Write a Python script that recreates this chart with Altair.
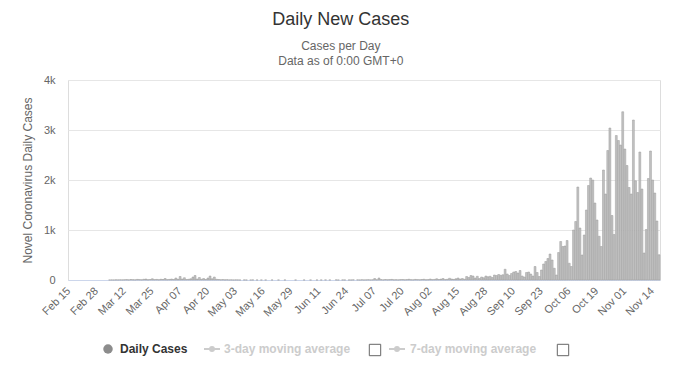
import altair as alt
import pandas as pd

# Daily new cases, Feb 15 .. Nov 17
values = (
    [0] * 19
    + [1, 2, 1, 3, 2, 4, 3]
    + [5, 8, 3, 10, 6, 4, 12, 8, 5, 15, 20, 6, 10]
    + [25, 8, 12, 6, 15, 10, 30, 8, 12, 20, 10, 40, 15]
    + [70, 20, 45, 10, 15, 25, 60, 90, 20, 50, 15, 30, 10]
    + [40, 80, 25, 60, 15, 10, 5, 8, 3, 6, 2, 4, 1]
    + [3, 2, 1, 0, 2, 1, 0, 1, 2, 0, 1, 0, 1]
    + [0, 1, 0, 0, 1, 0, 0, 1, 0, 0, 1, 0, 0]
    + [0, 0, 1, 0, 0, 0, 1, 0, 0, 1, 0, 0, 1]
    + [0, 1, 0, 2, 0, 1, 0, 0, 3, 1, 0, 2, 1]
    + [0, 2, 1, 4, 0, 3, 1, 5, 2, 3, 6, 2, 4]
    + [30, 5, 40, 8, 3, 10, 5, 8, 12, 4, 6, 3, 8]
    + [10, 5, 8, 15, 6, 4, 12, 8, 5, 10, 15, 6, 8]
    + [20, 8, 12, 25, 10, 18, 30, 8, 15, 35, 20, 12, 25]
    + [40, 20, 30, 15, 70, 50, 90, 80, 40, 75, 30, 60, 45]
    + [80, 65, 75, 50, 100, 90, 110, 95, 105, 215, 120, 90, 130]
    + [160, 170, 140, 190, 80, 60, 150, 160, 120, 80, 270, 150, 70]
    + [200, 320, 370, 430, 520, 400, 235, 100, 550, 770, 670, 680, 790, 335, 270]
    + [1000, 1170, 1860, 1040, 500, 900, 1400, 1890, 2040, 2000, 1540, 1200,
       875, 670, 2200, 1720, 2590, 3040, 1290, 910, 2890, 2790, 2700, 3365,
       2620, 2290, 1850, 1720, 3200, 1985, 1750, 2560, 1820, 540, 1010, 2030,
       2580, 2000, 1740, 1180, 505]
)
assert len(values) == 277, len(values)

tick_labels = ["Feb 15", "Feb 28", "Mar 12", "Mar 25", "Apr 07", "Apr 20",
               "May 03", "May 16", "May 29", "Jun 11", "Jun 24", "Jul 07",
               "Jul 20", "Aug 02", "Aug 15", "Aug 28", "Sep 10", "Sep 23",
               "Oct 06", "Oct 19", "Nov 01", "Nov 14"]
y_ticks = [0, 1000, 2000, 3000, 4000]

dates = pd.date_range("2020-02-15", periods=len(values), freq="D").strftime("%b %d").tolist()
df = pd.DataFrame({"date": dates, "cases": values})

FONT = "Liberation Sans, Arial, sans-serif"
one = pd.DataFrame({"k": [0]})

bars = alt.Chart(df).mark_bar(fill="#c2c2c2", stroke="#9a9a9a", strokeWidth=0.5).encode(
    x=alt.X("date:O", sort=None, title=None,
            scale=alt.Scale(paddingInner=0.12, paddingOuter=0),
            axis=alt.Axis(values=tick_labels, labelAngle=-45, labelAlign="right",
                          labelBaseline="middle", labelPadding=9, labelFontSize=11,
                          labelColor="#666666", labelFont=FONT, ticks=False,
                          domainColor="#ccd6eb", grid=False)),
    y=alt.Y("cases:Q", scale=alt.Scale(domain=[0, 4000], nice=False),
            title="Novel Coronavirus Daily Cases",
            axis=alt.Axis(values=y_ticks,
                          labelExpr="datum.value == 0 ? '0' : (datum.value / 1000) + 'k'",
                          domain=False, ticks=False, gridColor="#e6e6e6",
                          labelPadding=13, labelFontSize=11, labelColor="#666666",
                          labelFont=FONT, titlePadding=9, titleFontSize=12,
                          titleFontWeight="normal", titleColor="#666666",
                          titleFont=FONT)),
    strokeOpacity=alt.condition("datum.cases > 0", alt.value(1), alt.value(0)),
)

LY = 269
leg_circle = alt.Chart(one).mark_point(shape="circle", filled=True, size=90, color="#8c8c8c", opacity=1).encode(
    x=alt.value(40), y=alt.value(LY))
leg_t1 = alt.Chart(one).mark_text(align="left", baseline="middle", font=FONT, fontSize=12,
                                  fontWeight="bold", color="#333333").encode(
    x=alt.value(52), y=alt.value(LY), text=alt.value("Daily Cases"))
leg_line1 = alt.Chart(one).mark_rule(color="#cccccc", strokeWidth=2).encode(
    x=alt.value(136), x2=alt.value(152), y=alt.value(LY))
leg_dot1 = alt.Chart(one).mark_point(shape="circle", filled=True, size=35, color="#cccccc", opacity=1).encode(
    x=alt.value(144), y=alt.value(LY))
leg_t2 = alt.Chart(one).mark_text(align="left", baseline="middle", font=FONT, fontSize=12,
                                  fontWeight="bold", color="#cccccc").encode(
    x=alt.value(156), y=alt.value(LY), text=alt.value("3-day moving average"))
leg_box1 = alt.Chart(one).mark_point(shape="square", filled=False, size=130, stroke="#666666",
                                     strokeWidth=1, opacity=1).encode(
    x=alt.value(307), y=alt.value(LY + 1))
leg_line2 = alt.Chart(one).mark_rule(color="#cccccc", strokeWidth=2).encode(
    x=alt.value(321), x2=alt.value(337), y=alt.value(LY))
leg_dot2 = alt.Chart(one).mark_point(shape="circle", filled=True, size=35, color="#cccccc", opacity=1).encode(
    x=alt.value(329), y=alt.value(LY))
leg_t3 = alt.Chart(one).mark_text(align="left", baseline="middle", font=FONT, fontSize=12,
                                  fontWeight="bold", color="#cccccc").encode(
    x=alt.value(342), y=alt.value(LY), text=alt.value("7-day moving average"))
leg_box2 = alt.Chart(one).mark_point(shape="square", filled=False, size=130, stroke="#666666",
                                     strokeWidth=1, opacity=1).encode(
    x=alt.value(495), y=alt.value(LY + 1))

chart = alt.layer(
    bars, leg_circle, leg_t1, leg_line1, leg_dot1, leg_t2, leg_box1,
    leg_line2, leg_dot2, leg_t3, leg_box2
).properties(
    width=592, height=200,
    autosize=alt.AutoSizeParams(type="none"),
    padding={"left": 60, "top": 72, "right": 12, "bottom": 87},
    title=alt.TitleParams(
        text="Daily New Cases",
        subtitle=["Cases per Day", "Data as of 0:00 GMT+0"],
        fontSize=18, font=FONT, fontWeight="normal", color="#333333",
        subtitleFontSize=12, subtitleFont=FONT, subtitleColor="#666666",
        subtitleLineHeight=15, subtitlePadding=12,
        anchor="middle", frame="bounds", offset=7),
).configure_view(strokeWidth=0).configure(background="white")

chart.save("out.html", embed_options={"renderer": "svg", "actions": False})
